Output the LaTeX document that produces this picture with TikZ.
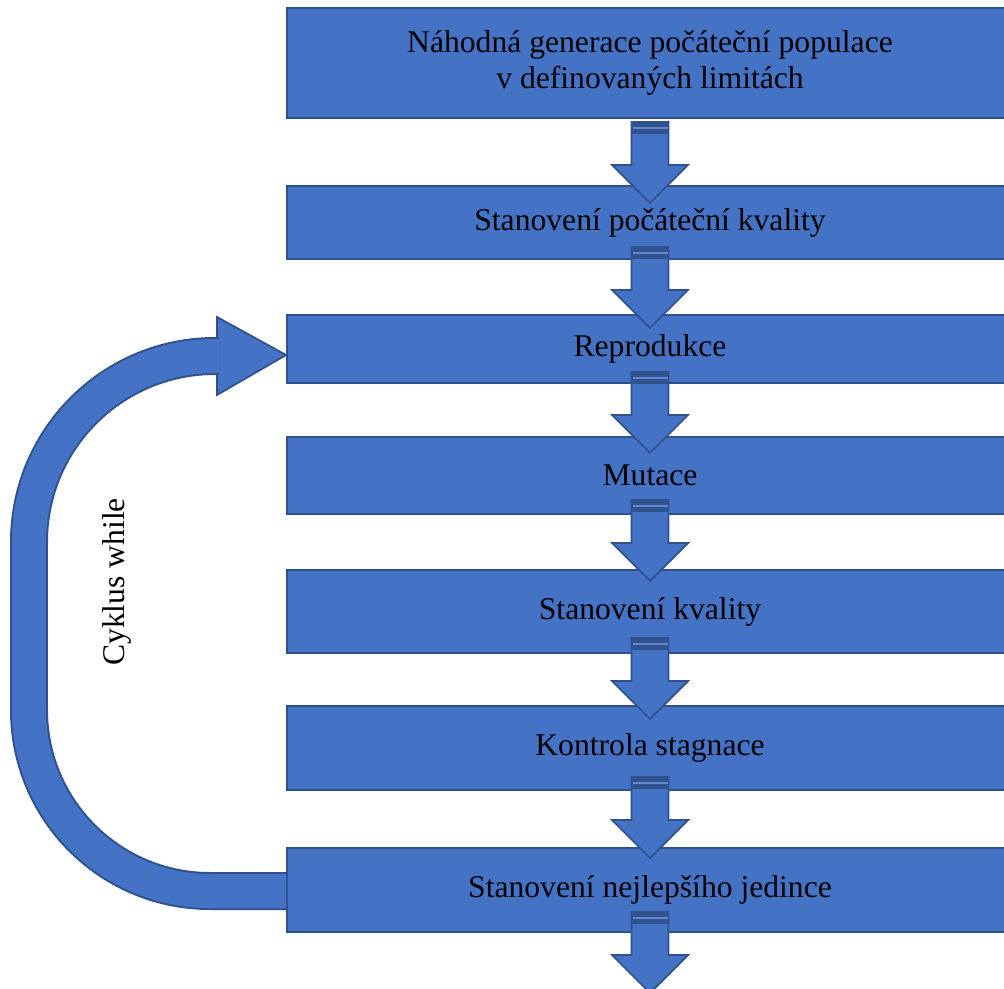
\documentclass[tikz,border=0pt]{standalone}
\usepackage{fontspec}
\setmainfont{Liberation Serif}
\usetikzlibrary{calc}

\definecolor{boxblue}{HTML}{4472C4}
\definecolor{boxedge}{HTML}{2F528F}
\definecolor{bandblue}{HTML}{30538F}
\definecolor{bandline}{HTML}{6488CC}

\begin{document}
\begin{tikzpicture}[
  x=0.02cm, y=-0.02cm,
  font=\fontsize{18}{20.5}\selectfont,
  stepbox/.style={rectangle, draw=boxedge, fill=boxblue, line width=1.1pt,
             minimum width=14.52cm, inner sep=0pt, align=center},
  loopband/.style={draw=boxedge, line width=0.04cm, double=boxblue,
             double distance=0.68cm},
  downarr/.pic={
    \filldraw[fill=boxblue, draw=boxedge, line width=1pt]
      (-18.5,0) -- (18.5,0) -- (18.5,43) -- (38,43) -- (0,81)
      -- (-38,43) -- (-18.5,43) -- cycle;
    \fill[bandblue] (-18.5,0) rectangle (18.5,12);
    \draw[bandline, line width=0.6pt] (-17.5,6) -- (17.5,6);
  }
]
  \useasboundingbox (0,0) rectangle (1004,989);
  \clip (0,0) rectangle (1004,989);
  \node[stepbox, minimum height=2.19cm] (b1) at (650,63)
    {Náhodná generace počáteční populace\\v definovaných limitách};
  \node[stepbox, minimum height=1.46cm] (b2) at (650,222.5) {Stanovení počáteční kvality};
  \node[stepbox, minimum height=1.36cm] (b3) at (650,349) {Reprodukce};
  \node[stepbox, minimum height=1.54cm] (b4) at (650,475.5) {Mutace};
  \node[stepbox, minimum height=1.66cm] (b5) at (650,611.5) {Stanovení kvality};
  \node[stepbox, minimum height=1.68cm] (b6) at (650,748) {Kontrola stagnace};
  \node[stepbox, minimum height=1.68cm] (b7) at (650,890) {Stanovení nejlepšího jedince};
  % blokové šipky mezi kroky
  \foreach \t in {122,247,372,500,638,777,912}
    \pic at (650,\t) {downarr};
  % smyčka zpět z posledního kroku na reprodukci
  \filldraw[fill=boxblue, draw=boxedge, line width=1pt]
    (217,317) -- ($(b3.west)+(0,6)$) -- (217,395) -- cycle;
  \draw[loopband] ($(b7.west)+(0,1)$) -- (210,891)
    arc[start angle=90, end angle=180, radius=181] -- (29,542)
    arc[start angle=180, end angle=270, radius=186] -- (219,356);
  \node[rotate=90] (cyk) at (117,582) {Cyklus while};
\end{tikzpicture}
\end{document}
